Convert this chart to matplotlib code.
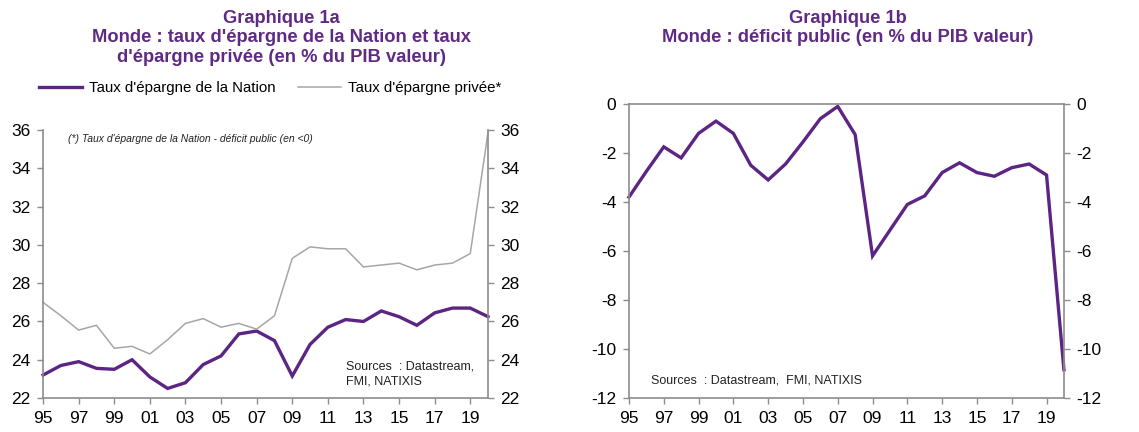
import matplotlib
matplotlib.use("Agg")
import matplotlib.pyplot as plt

plt.rcParams['font.family'] = ['Liberation Sans', 'DejaVu Sans']
plt.rcParams['axes.unicode_minus'] = False

years = list(range(1995, 2021))

# Graphique 1a
nation = [23.2, 23.7, 23.9, 23.55, 23.5, 24.0, 23.1, 22.5, 22.8, 23.75,
          24.2, 25.35, 25.5, 25.0, 23.15, 24.8, 25.7, 26.1, 26.0, 26.55,
          26.25, 25.8, 26.45, 26.7, 26.7, 26.25]
privee = [27.0, 26.3, 25.55, 25.8, 24.6, 24.7, 24.3, 25.05, 25.9, 26.15,
          25.7, 25.9, 25.6, 26.3, 29.3, 29.9, 29.8, 29.8, 28.85, 28.95,
          29.05, 28.7, 28.95, 29.05, 29.55, 35.9]

# Graphique 1b
deficit = [-3.8, -2.75, -1.75, -2.2, -1.2, -0.7, -1.2, -2.5, -3.1, -2.45,
           -1.55, -0.6, -0.1, -1.25, -6.2, -5.15, -4.1, -3.75, -2.8, -2.4,
           -2.8, -2.95, -2.6, -2.45, -2.9, -10.85]

xticks = list(range(1995, 2020, 2))
xlabels = [f"{y % 100:02d}" for y in xticks]

purple = "#5c2483"
title_col = "#5f2a85"
grey_line = "#a6a6a6"
spine_col = "#8c8c8c"

fig = plt.figure(figsize=(11.39, 4.32), dpi=100)


def style_axes(ax, top=False):
    for s in ["left", "right", "bottom"]:
        ax.spines[s].set_color(spine_col)
        ax.spines[s].set_linewidth(1.2)
    if top:
        ax.spines["top"].set_color(spine_col)
        ax.spines["top"].set_linewidth(1.2)
    else:
        ax.spines["top"].set_visible(False)
    ax.tick_params(axis="both", direction="out", length=4, width=1,
                   color=spine_col, labelsize=12.5, pad=5)
    ax.tick_params(axis="y", left=True, right=True, labelleft=True, labelright=True)
    ax.set_xticks(xticks)
    ax.set_xticklabels(xlabels)
    ax.set_xlim(1995, 2020)


# left chart
ax1 = fig.add_axes([0.0378, 0.0787, 0.3907, 0.620])
ax1.plot(years, nation, color=purple, lw=2.4, clip_on=False, solid_joinstyle="miter",
         label="Taux d'épargne de la Nation")
ax1.plot(years, privee, color=grey_line, lw=1.1, clip_on=False,
         label="Taux d'épargne privée*")
ax1.set_ylim(22, 36)
ax1.set_yticks(range(22, 37, 2))
style_axes(ax1)
ax1.text(0.055, 0.985, "(*) Taux d'épargne de la Nation - déficit public (en <0)",
         transform=ax1.transAxes, fontsize=7.5, style="italic", va="top", color="#222222")
ax1.text(0.68, 0.09, "Sources  : Datastream,\nFMI, NATIXIS", transform=ax1.transAxes,
         fontsize=9, va="center", linespacing=1.3, color="#222222")

fig.text(0.247, 0.978, "Graphique 1a\nMonde : taux d'épargne de la Nation et taux\nd'épargne privée (en % du PIB valeur)",
         ha="center", va="top", fontsize=13.2, fontweight="bold", color=title_col, linespacing=1.22)

leg = fig.legend(handles=ax1.get_lines(), loc="center left", bbox_to_anchor=(0.022, 0.796),
                 ncol=2, frameon=False, fontsize=10.8, handlelength=2.9, columnspacing=1.5,
                 handletextpad=0.45)

# right chart
ax2 = fig.add_axes([0.5522, 0.0787, 0.3819, 0.6806])
ax2.plot(years, deficit, color=purple, lw=2.4, clip_on=False, solid_joinstyle="miter")
ax2.set_ylim(-12, 0)
ax2.set_yticks(range(-12, 1, 2))
style_axes(ax2, top=True)
ax2.text(0.05, 0.06, "Sources  : Datastream,  FMI, NATIXIS", transform=ax2.transAxes,
         fontsize=9, va="center", color="#222222")

fig.text(0.744, 0.978, "Graphique 1b\nMonde : déficit public (en % du PIB valeur)",
         ha="center", va="top", fontsize=13.2, fontweight="bold", color=title_col, linespacing=1.22)

fig.savefig("out.png", dpi=100)
